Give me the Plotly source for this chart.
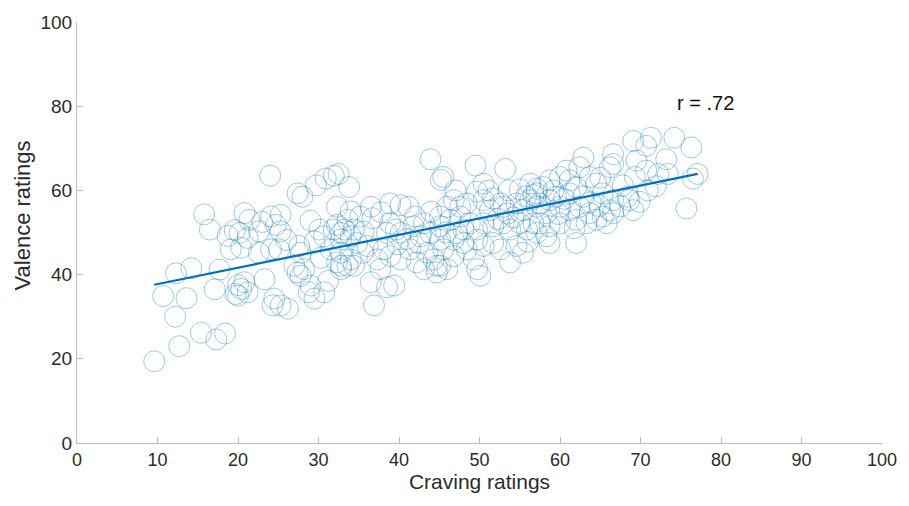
import numpy as np
import plotly.graph_objects as go

# Craving vs. valence ratings, one pair per participant item
craving = [
    9.6, 10.7, 12.3, 14.2, 13.6, 12.2, 12.7, 15.4, 17.3, 18.4,
    15.8, 16.5, 17.7, 17.1, 18.7, 19.6, 19.1, 19.7, 20.0, 20.4,
    20.8, 21.2, 20.0, 20.8, 21.4, 24.0, 28.0, 27.4, 29.7, 30.9,
    31.9, 24.1, 25.3, 24.7, 25.3, 20.2, 21.2, 22.6, 20.4, 22.6,
    24.1, 25.1, 27.6, 27.8, 30.1, 30.7, 31.9, 32.8, 32.3, 29.5,
    31.5, 32.3, 32.8, 27.0, 27.4, 28.2, 27.8, 23.3, 24.5, 25.3,
    26.2, 24.3, 28.8, 30.7, 29.5, 29.0, 43.9, 45.5, 45.2, 32.5,
    33.8, 32.3, 34.0, 36.5, 38.9, 40.2, 41.2, 36.7, 35.2, 33.6,
    33.2, 34.4, 34.0, 32.8, 38.9, 39.6, 38.5, 40.2, 41.8, 43.1,
    42.7, 43.9, 45.1, 45.1, 34.8, 36.1, 32.8, 34.0, 33.6, 38.1,
    38.9, 40.2, 41.4, 42.5, 43.5, 44.3, 44.7, 37.3, 37.7, 32.8,
    34.4, 36.5, 38.5, 39.4, 36.9, 42.2, 43.1, 44.7, 49.5, 53.2,
    50.5, 51.1, 49.7, 53.6, 56.3, 57.1, 56.7, 46.8, 46.0, 47.6,
    48.4, 50.5, 51.7, 52.6, 51.3, 53.0, 54.6, 55.4, 56.3, 57.1,
    46.4, 47.6, 48.8, 48.0, 49.7, 50.5, 51.7, 53.0, 53.8, 55.0,
    55.9, 56.7, 45.1, 46.8, 48.0, 49.7, 50.5, 51.7, 52.6, 54.6,
    55.4, 45.5, 46.8, 48.4, 49.3, 45.1, 46.0, 49.7, 50.1, 53.8,
    69.1, 66.6, 66.6, 66.2, 62.9, 62.4, 69.5, 60.8, 60.0, 61.2,
    63.7, 64.5, 58.7, 57.9, 59.2, 57.1, 62.0, 61.2, 62.9, 65.3,
    66.6, 66.2, 68.6, 69.1, 57.5, 58.7, 60.0, 58.3, 61.2, 62.4,
    63.7, 62.0, 63.3, 64.5, 65.3, 66.6, 65.8, 57.5, 58.7, 60.0,
    57.1, 58.3, 62.0, 58.7, 74.2, 76.3, 71.3, 70.7, 73.2, 70.7,
    72.2, 73.4, 77.1, 76.5, 69.3, 70.9, 69.9, 75.7, 68.4, 53.5,
    54.2, 52.3, 55.8, 59.5, 60.5, 63.8, 64.9, 67.5, 41.0, 39.8,
    42.0, 37.8, 35.6, 47.2, 44.0, 55.0, 59.8, 61.8, 56.0, 35.5,
    30.3, 26.0, 23.0, 29.0, 65.0, 67.8, 71.9, 47.0, 45.8, 31.2,
]
valence = [
    19.4, 34.9, 40.3, 41.5, 34.4, 30.0, 23.0, 26.2, 24.6, 26.0,
    54.3, 50.7, 41.2, 36.5, 49.2, 50.6, 46.0, 35.4, 37.5, 36.6,
    38.2, 35.8, 35.0, 54.6, 53.0, 63.5, 58.5, 59.3, 61.2, 62.8,
    63.5, 53.8, 54.2, 51.8, 50.3, 49.9, 48.7, 50.3, 46.4, 45.2,
    46.0, 46.0, 46.8, 45.2, 50.7, 49.1, 50.7, 49.9, 51.8, 47.9,
    46.0, 42.9, 42.1, 42.1, 40.5, 41.3, 39.7, 38.9, 34.3, 32.7,
    31.9, 32.7, 35.8, 35.8, 34.3, 37.4, 67.4, 63.2, 62.5, 63.9,
    60.8, 56.1, 55.0, 56.1, 56.9, 56.5, 56.1, 53.4, 53.8, 53.0,
    50.7, 50.7, 49.1, 48.3, 52.2, 50.7, 49.9, 49.9, 51.5, 52.2,
    49.1, 49.9, 53.8, 51.5, 47.5, 46.8, 45.2, 43.6, 42.1, 46.0,
    44.4, 43.6, 46.0, 47.5, 45.2, 43.6, 42.1, 43.6, 41.3, 41.3,
    42.1, 38.2, 37.0, 37.4, 32.7, 42.9, 41.3, 40.5, 65.9, 65.1,
    61.6, 60.0, 59.7, 60.0, 61.6, 60.4, 58.9, 57.7, 56.1, 56.1,
    56.9, 57.7, 58.1, 56.9, 55.3, 56.1, 56.9, 55.3, 57.7, 56.1,
    53.0, 53.8, 52.2, 50.7, 50.7, 52.2, 51.5, 52.2, 50.7, 52.2,
    50.7, 52.2, 48.3, 48.3, 47.5, 48.3, 46.8, 47.5, 46.0, 46.8,
    45.2, 46.0, 44.4, 46.0, 43.6, 42.1, 41.3, 41.3, 39.7, 42.9,
    71.7, 68.6, 66.3, 65.5, 67.8, 65.5, 67.1, 64.7, 63.2, 62.4,
    63.2, 61.6, 62.4, 60.8, 60.0, 59.3, 60.8, 59.3, 58.5, 59.3,
    57.7, 55.3, 57.7, 55.3, 56.9, 57.7, 56.1, 54.6, 55.3, 56.1,
    54.6, 53.0, 52.2, 53.0, 53.8, 54.6, 52.2, 52.2, 51.5, 52.2,
    49.9, 49.1, 47.5, 47.5, 72.5, 70.2, 72.5, 70.6, 67.4, 64.7,
    63.9, 63.9, 63.9, 62.8, 63.2, 60.0, 57.3, 55.7, 58.5, 54.5,
    53.6, 53.2, 58.6, 58.5, 58.0, 57.2, 56.3, 56.2, 48.5, 47.2,
    53.8, 54.8, 50.2, 49.8, 55.0, 60.3, 54.4, 51.0, 47.8, 45.2,
    44.0, 48.2, 52.5, 52.8, 63.0, 61.2, 61.0, 60.0, 50.0, 38.5,
]

tick_values = [0, 10, 20, 30, 40, 50, 60, 70, 80, 90, 100]
y_tick_values = [0, 20, 40, 60, 80, 100]
r_label = "r = .72"

x = np.array(craving)
y = np.array(valence)

# Least-squares fit drawn across the observed craving range
slope, intercept = np.polyfit(x, y, 1)
fit_x = np.array([x.min(), x.max()])
fit_y = slope * fit_x + intercept

BLUE = "#0072BD"
AXIS_GREY = "#bdbdbd"
TEXT_GREY = "#2b2b2b"
FONT = "Liberation Sans, Arial, sans-serif"

fig = go.Figure()
fig.add_trace(go.Scatter(
    x=x, y=y, mode="markers",
    marker=dict(symbol="circle-open", size=21,
                color="rgba(0,114,189,0.38)",
                line=dict(width=1, color="rgba(0,114,189,0.38)")),
    hoverinfo="skip", showlegend=False,
))
fig.add_trace(go.Scatter(
    x=fit_x, y=fit_y, mode="lines",
    line=dict(color=BLUE, width=2.2),
    hoverinfo="skip", showlegend=False,
))

fig.add_annotation(
    x=78.1, y=80.8, text=r_label, showarrow=False,
    font=dict(family=FONT, size=20, color="#111111"),
    xanchor="center", yanchor="middle",
)

# Y label placed as rotated text, sitting slightly above the axis midpoint
fig.add_annotation(
    xref="paper", yref="paper", x=-0.068, y=0.541,
    text="Valence ratings", textangle=-90, showarrow=False,
    font=dict(family=FONT, size=22, color=TEXT_GREY),
    xanchor="center", yanchor="middle",
)

axis_common = dict(
    range=[0, 100], showgrid=False, zeroline=False,
    showline=True, linecolor=AXIS_GREY, linewidth=1,
    ticks="inside", ticklen=6, tickcolor=AXIS_GREY, tickwidth=1,
    fixedrange=True,
)

fig.update_layout(
    width=909, height=506,
    margin=dict(l=77, r=23, t=16, b=63),
    paper_bgcolor="white", plot_bgcolor="white",
    xaxis=dict(**axis_common, tickvals=tick_values,
               tickfont=dict(family=FONT, size=18, color=TEXT_GREY),
               title=dict(text="Craving ratings", standoff=4,
                          font=dict(family=FONT, size=21, color=TEXT_GREY))),
    yaxis=dict(**axis_common, tickvals=y_tick_values,
               tickfont=dict(family=FONT, size=19, color=TEXT_GREY)),
    font=dict(family=FONT),
)

fig.write_html("out.html")
